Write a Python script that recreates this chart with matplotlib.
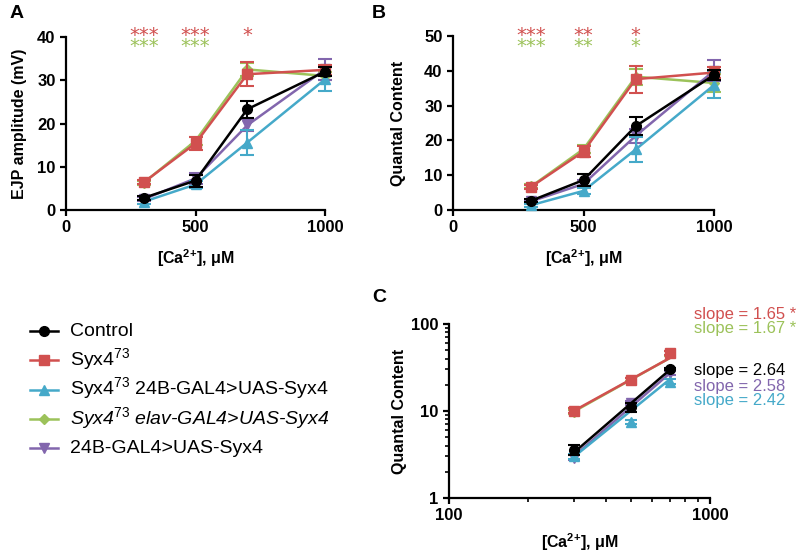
import matplotlib
matplotlib.use("Agg")
import matplotlib.pyplot as plt
from matplotlib.lines import Line2D
from matplotlib.ticker import LogLocator, FixedLocator, NullFormatter

# ── data ────────────────────────────────────────────────────────────────
CA = [300, 500, 700, 1000]          # [Ca2+] in uM, panels A and B
CA_LOG = [300, 500, 700]            # panel C
FIT_X = [300, 700]                  # ends of fitted lines in panel C

LABELS = [
    "Control",
    "Syx4$^{73}$",
    "Syx4$^{73}$ 24B-GAL4>UAS-Syx4",
    "Syx4$^{\\mathit{73}}$ elav-GAL4>UAS-Syx4",
    "24B-GAL4>UAS-Syx4",
]
COLORS = ["#000000", "#d1504f", "#45a9c9", "#9cc25a", "#8266ad"]
MARKERS = ["o", "s", "^", "D", "v"]

# Panel A: EJP amplitude (mV)
EJP_CONTROL = [2.8, 6.8, 23.3, 32.0]
EJP_CONTROL_ERR = [0.4, 1.4, 2.0, 1.0]
EJP_SYX = [6.4, 15.4, 31.4, 32.4]
EJP_SYX_ERR = [0.5, 1.5, 2.8, 1.2]
EJP_24B_RESCUE = [1.9, 5.9, 15.6, 30.2]
EJP_24B_RESCUE_ERR = [0.4, 0.8, 2.8, 2.8]
EJP_ELAV_RESCUE = [6.3, 16.0, 32.5, 31.0]
EJP_ELAV_RESCUE_ERR = [0.5, 0.9, 1.6, 1.0]
EJP_24B = [2.5, 7.3, 19.6, 32.5]
EJP_24B_ERR = [0.5, 1.3, 1.4, 2.4]

# Panel B: quantal content
QC_CONTROL = [2.7, 8.6, 24.1, 38.8]
QC_CONTROL_ERR = [0.5, 1.7, 2.5, 1.5]
QC_SYX = [6.7, 16.8, 37.6, 39.5]
QC_SYX_ERR = [0.6, 1.7, 3.9, 1.5]
QC_24B_RESCUE = [1.4, 5.5, 17.4, 35.9]
QC_24B_RESCUE_ERR = [0.4, 0.8, 3.6, 3.8]
QC_ELAV_RESCUE = [6.8, 17.5, 38.3, 36.5]
QC_ELAV_RESCUE_ERR = [0.6, 1.2, 2.3, 2.5]
QC_24B = [2.5, 7.5, 21.3, 40.0]
QC_24B_ERR = [0.5, 1.0, 2.0, 3.0]

# Panel C: quantal content, log-log
LOG_CONTROL = [3.6, 11.0, 30.4]
LOG_CONTROL_ERR = [0.5, 1.2, 1.0]
LOG_SYX = [10.1, 22.7, 46.0]
LOG_SYX_ERR = [0.6, 1.0, 2.5]
LOG_24B_RESCUE = [3.0, 7.5, 21.7]
LOG_24B_RESCUE_ERR = [0.2, 0.4, 1.5]
LOG_ELAV_RESCUE = [9.8, 23.0, 46.0]
LOG_ELAV_RESCUE_ERR = [0.5, 1.0, 3.0]
LOG_24B = [2.9, 12.3, 27.1]
LOG_24B_ERR = [0.2, 0.6, 1.5]

FIT_CONTROL = [3.3, 29.6]
FIT_SYX = [10.0, 40.5]
FIT_24B_RESCUE = [2.95, 23.0]
FIT_ELAV_RESCUE = [9.8, 40.5]
FIT_24B = [3.0, 27.0]

SLOPES = ["slope = 1.65 *", "slope = 1.67 *", "slope = 2.64", "slope = 2.58", "slope = 2.42"]
SLOPE_COLORS = [COLORS[1], COLORS[3], COLORS[0], COLORS[4], COLORS[2]]

STARS_A_RED = ["***", "***", "*"]
STARS_A_GREEN = ["***", "***", ""]
STARS_B_RED = ["***", "**", "*"]
STARS_B_GREEN = ["***", "**", "*"]

# "{+}" keeps mathtext from padding the plus sign like a binary operator
CA_LABEL = "[Ca$^{\\mathbf{2{+}}}$], \u03bcM"

plt.rcParams.update({
    "font.family": ["Liberation Sans", "DejaVu Sans"],
    "mathtext.fontset": "custom",
    "mathtext.rm": "Liberation Sans",
    "mathtext.it": "Liberation Sans:italic",
    "mathtext.bf": "Liberation Sans:bold",
    "axes.linewidth": 1.6,
    "xtick.major.width": 1.6,
    "ytick.major.width": 1.6,
    "xtick.minor.width": 1.2,
    "ytick.minor.width": 1.2,
    "xtick.major.size": 4,
    "ytick.major.size": 4,
    "xtick.minor.size": 3,
    "ytick.minor.size": 3,
    "xtick.labelsize": 12,
    "ytick.labelsize": 12,
})

W, H = 800, 553
fig = plt.figure(figsize=(W / 100, H / 100), dpi=100)


def axes_px(left, right, top, bottom):
    return fig.add_axes([left / W, 1 - bottom / H, (right - left) / W, (bottom - top) / H])


def style(ax, ylabel, ylab_x, xlab_y):
    for s in ("top", "right"):
        ax.spines[s].set_visible(False)
    for lab in ax.get_xticklabels() + ax.get_yticklabels():
        lab.set_fontweight("bold")
    ax.set_xlabel(CA_LABEL, fontsize=11.5, fontweight="bold")
    ax.set_ylabel(ylabel, fontsize=11.5, fontweight="bold")
    ax.yaxis.set_label_coords(ylab_x, 0.5)
    ax.xaxis.set_label_coords(0.5, xlab_y)
    ax.xaxis.label.set_va("center")
    ax.yaxis.label.set_va("center")


def msize(m):
    return 5.5 if m == "D" else 7


def draw_series(ax, x, means, errs):
    order = [3, 4, 2, 1, 0]
    for k, i in enumerate(order):
        ax.errorbar(x, means[i], yerr=errs[i], color=COLORS[i], marker=MARKERS[i],
                    markersize=msize(MARKERS[i]), lw=1.8, capsize=5,
                    capthick=1.5, elinewidth=1.5, clip_on=False, zorder=3 + k)


def stars(ax, xs, marks, y, color):
    for x, s in zip(xs, marks):
        ax.text(x, y, s, color=color, ha="center", va="baseline", fontsize=14,
                family="DejaVu Sans", clip_on=False)


# ── Panel A ─────────────────────────────────────────────────────────────
axA = axes_px(66, 325, 37, 210)
draw_series(axA, CA,
            [EJP_CONTROL, EJP_SYX, EJP_24B_RESCUE, EJP_ELAV_RESCUE, EJP_24B],
            [EJP_CONTROL_ERR, EJP_SYX_ERR, EJP_24B_RESCUE_ERR, EJP_ELAV_RESCUE_ERR, EJP_24B_ERR])
axA.set_xlim(0, 1000)
axA.set_ylim(0, 40)
axA.set_xticks([0, 500, 1000])
axA.set_yticks([0, 10, 20, 30, 40])
style(axA, "EJP amplitude (mV)", -0.181, -0.277)
stars(axA, CA, STARS_A_RED, 39.0, COLORS[1])
stars(axA, CA, STARS_A_GREEN, 36.5, COLORS[3])

# ── Panel B ─────────────────────────────────────────────────────────────
axB = axes_px(453, 714, 36, 210)
draw_series(axB, CA,
            [QC_CONTROL, QC_SYX, QC_24B_RESCUE, QC_ELAV_RESCUE, QC_24B],
            [QC_CONTROL_ERR, QC_SYX_ERR, QC_24B_RESCUE_ERR, QC_ELAV_RESCUE_ERR, QC_24B_ERR])
axB.set_xlim(0, 1000)
axB.set_ylim(0, 50)
axB.set_xticks([0, 500, 1000])
axB.set_yticks([0, 10, 20, 30, 40, 50])
style(axB, "Quantal Content", -0.21, -0.277)
stars(axB, CA, STARS_B_RED, 48.5, COLORS[1])
stars(axB, CA, STARS_B_GREEN, 45.4, COLORS[3])

# ── Panel C ─────────────────────────────────────────────────────────────
axC = axes_px(449, 710, 324, 498)
axC.set_xscale("log")
axC.set_yscale("log")
log_means = [LOG_CONTROL, LOG_SYX, LOG_24B_RESCUE, LOG_ELAV_RESCUE, LOG_24B]
log_errs = [LOG_CONTROL_ERR, LOG_SYX_ERR, LOG_24B_RESCUE_ERR, LOG_ELAV_RESCUE_ERR, LOG_24B_ERR]
fits = [FIT_CONTROL, FIT_SYX, FIT_24B_RESCUE, FIT_ELAV_RESCUE, FIT_24B]
order = [3, 4, 2, 1, 0]
for k, i in enumerate(order):
    axC.errorbar(CA_LOG, log_means[i], yerr=log_errs[i], color=COLORS[i], marker=MARKERS[i],
                 markersize=msize(MARKERS[i]), lw=0, capsize=4, capthick=1.5,
                 elinewidth=1.5, zorder=3 + k)
    axC.plot(FIT_X, fits[i], color=COLORS[i], lw=1.8, zorder=3 + k)
axC.set_xlim(100, 1000)
axC.set_ylim(1, 100)
axC.xaxis.set_major_locator(FixedLocator([100, 1000]))
axC.xaxis.set_minor_locator(LogLocator(base=10, subs=range(2, 10), numticks=20))
axC.xaxis.set_minor_formatter(NullFormatter())
axC.yaxis.set_major_locator(FixedLocator([1, 10, 100]))
axC.yaxis.set_minor_locator(LogLocator(base=10, subs=range(2, 10), numticks=20))
axC.yaxis.set_minor_formatter(NullFormatter())
axC.set_xticklabels(["100", "1000"])
axC.set_yticklabels(["1", "10", "100"])
style(axC, "Quantal Content", -0.188, -0.255)

slope_y = [314, 328, 371, 386, 401]
for txt, c, y in zip(SLOPES, SLOPE_COLORS, slope_y):
    fig.text(694 / W, 1 - y / H, txt, color=c, fontsize=12, ha="left", va="center")

# ── panel letters ───────────────────────────────────────────────────────
fig.text(10 / W, 1 - 13 / H, "A", fontsize=14, fontweight="bold", va="center")
fig.text(372 / W, 1 - 13 / H, "B", fontsize=14, fontweight="bold", va="center")
fig.text(372 / W, 1 - 298 / H, "C", fontsize=14, fontweight="bold", va="center")

# ── legend, laid out by hand so rows are evenly spaced ─────────────────
for i, (lab, c, m) in enumerate(zip(LABELS, COLORS, MARKERS)):
    row = 331 + i * 29.25
    y = 1 - row / H
    fig.add_artist(Line2D([30 / W, 44 / W, 58 / W], [y, y, y], transform=fig.transFigure,
                          color=c, lw=1.8, marker=m, markevery=[1], markersize=msize(m)))
    fig.text(70 / W, 1 - (row + 5) / H, lab, fontsize=14, va="baseline", ha="left",
             fontstyle="italic" if i == 3 else "normal")

fig.savefig("out.png", dpi=100)
